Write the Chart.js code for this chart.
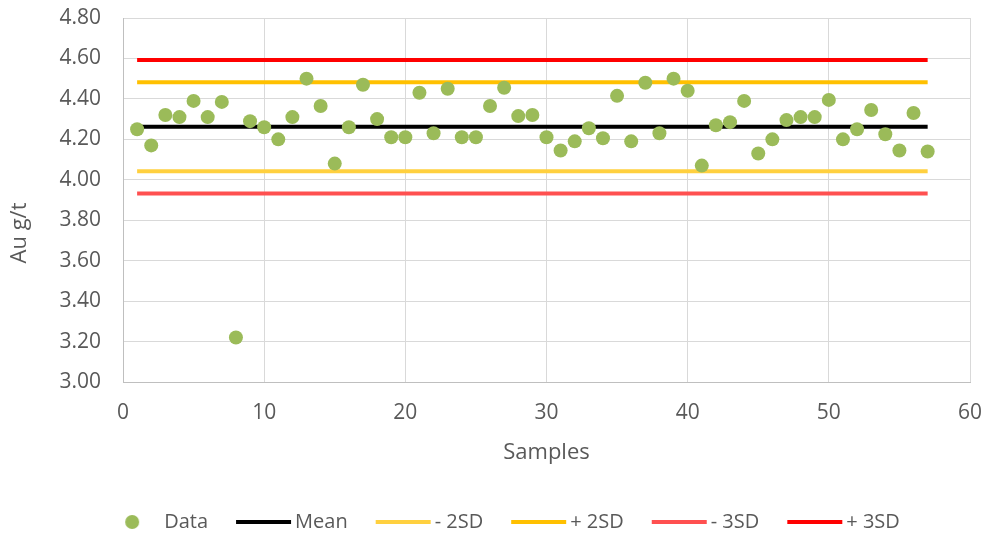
<!DOCTYPE html>
<html>
<head>
<meta charset="utf-8">
<script src="https://cdn.jsdelivr.net/npm/chart.js@4/dist/chart.umd.min.js"></script>
<style>
  html, body { margin: 0; padding: 0; background: #ffffff; }
  #wrap { width: 985px; height: 536px; position: relative; }
</style>
</head>
<body>
<div id="wrap"><canvas id="c"></canvas></div>
<script>
// ---- data ----
const sampleNos = [1,2,3,4,5,6,7,8,9,10,11,12,13,14,15,16,17,18,19,20,21,22,23,24,25,26,27,28,29,30,31,32,33,34,35,36,37,38,39,40,41,42,43,44,45,46,47,48,49,50,51,52,53,54,55,56,57];
const auValues = [4.25,4.17,4.32,4.31,4.39,4.31,4.385,3.22,4.29,4.26,4.20,4.31,4.50,4.365,4.08,4.26,4.47,4.30,4.21,4.21,4.43,4.23,4.45,4.21,4.21,4.365,4.455,4.315,4.32,4.21,4.145,4.19,4.255,4.205,4.415,4.19,4.48,4.23,4.50,4.44,4.07,4.27,4.285,4.39,4.13,4.20,4.295,4.31,4.31,4.395,4.20,4.25,4.345,4.225,4.145,4.33,4.14];
const limitNames = ['Mean', '- 2SD', '+ 2SD', '- 3SD', '+ 3SD'];
const limitValues = [4.262, 4.042, 4.482, 3.932, 4.592];
const limitRange = [1, 57];
const xTicks = [0, 10, 20, 30, 40, 50, 60];
const yTicks = [3.00, 3.20, 3.40, 3.60, 3.80, 4.00, 4.20, 4.40, 4.60, 4.80];

// ---- styles ----
const dataColor = '#9BBB59';
const limitColors = ['#000000', '#FFD03F', '#FFC000', '#FF5050', '#FF0000'];
const textColor = '#595959';
const gridColor = '#D9D9D9';

Chart.defaults.font.family = "'Open Sans', sans-serif";
Chart.defaults.color = textColor;

// legend marker images
function makeLegendImage(kind, color) {
  const cv = document.createElement('canvas');
  cv.width = 80; cv.height = 16;
  const g = cv.getContext('2d');
  if (kind === 'circle') {
    g.fillStyle = color;
    g.beginPath(); g.arc(43, 8, 7, 0, Math.PI * 2); g.fill();
  } else {
    g.fillStyle = color;
    g.fillRect(16, 6, 55, 4);
  }
  return cv;
}
const legendImages = [makeLegendImage('circle', dataColor)].concat(
  limitColors.map(c => makeLegendImage('line', c)));

const datasets = [{
  type: 'scatter',
  label: 'Data',
  data: sampleNos.map((s, i) => ({x: s, y: auValues[i]})),
  backgroundColor: dataColor,
  borderWidth: 0,
  pointRadius: 7,
  pointHoverRadius: 7
}];
limitNames.forEach((name, k) => {
  datasets.push({
    type: 'line',
    label: name,
    data: limitRange.map(x => ({x: x, y: limitValues[k]})),
    borderColor: limitColors[k],
    backgroundColor: limitColors[k],
    borderWidth: 4,
    pointRadius: 0,
    showLine: true,
    fill: false
  });
});

const layoutTweak = {
  id: 'layoutTweak',
  afterLayout(chart) {
    const lg = chart.legend;
    const dx = 17, dy = 6;
    lg.left += dx; lg.right += dx;
    lg.top += dy; lg.bottom += dy;
  },
  afterDraw(chart) {
    const ctx = chart.ctx;
    ctx.save();
    ctx.translate(20, 233);
    ctx.rotate(-Math.PI / 2);
    ctx.font = "22px 'Open Sans', sans-serif";
    ctx.fillStyle = textColor;
    ctx.textAlign = 'center';
    ctx.textBaseline = 'middle';
    ctx.fillText('Au g/t', 0, 0);
    ctx.restore();
  }
};

new Chart(document.getElementById('c'), {
  type: 'scatter',
  data: { datasets },
  plugins: [layoutTweak],
  options: {
    responsive: true,
    maintainAspectRatio: false,
    animation: false,
    layout: { padding: { top: 18, right: 15, left: 0, bottom: 0 } },
    plugins: {
      tooltip: { enabled: false },
      legend: {
        position: 'bottom',
        align: 'center',
        labels: {
          usePointStyle: true,
          pointStyleWidth: 50,
          padding: 27,
          color: textColor,
          font: { size: 20 },
          generateLabels(chart) {
            const items = Chart.defaults.plugins.legend.labels.generateLabels(chart);
            items.forEach(it => { it.pointStyle = legendImages[it.datasetIndex]; });
            return items;
          }
        }
      }
    },
    scales: {
      x: {
        type: 'linear',
        min: xTicks[0],
        max: xTicks[xTicks.length - 1],
        afterBuildTicks(scale) { scale.ticks = xTicks.map(v => ({value: v})); },
        afterFit(scale) { scale.height = 97; scale.paddingLeft = 0; scale.paddingRight = 0; },
        grid: { color: gridColor, lineWidth: 1, drawTicks: false },
        border: { color: '#BFBFBF', width: 1 },
        ticks: { padding: 18, font: { size: 21 }, color: textColor, maxRotation: 0 },
        title: { display: true, text: 'Samples', font: { size: 22 }, color: textColor, padding: { top: 0, bottom: 13 } }
      },
      y: {
        type: 'linear',
        min: yTicks[0],
        max: yTicks[yTicks.length - 1],
        afterBuildTicks(scale) { scale.ticks = yTicks.map(v => ({value: v})); },
        afterFit(scale) { scale.width = 123; scale.paddingTop = 0; scale.paddingBottom = 0; },
        grid: { color: gridColor, lineWidth: 1, drawTicks: false },
        border: { color: '#BFBFBF', width: 1 },
        ticks: { padding: 22, font: { size: 21 }, color: textColor, callback: v => Number(v).toFixed(2) },
        title: { display: false }
      }
    }
  }
});
</script>
</body>
</html>
